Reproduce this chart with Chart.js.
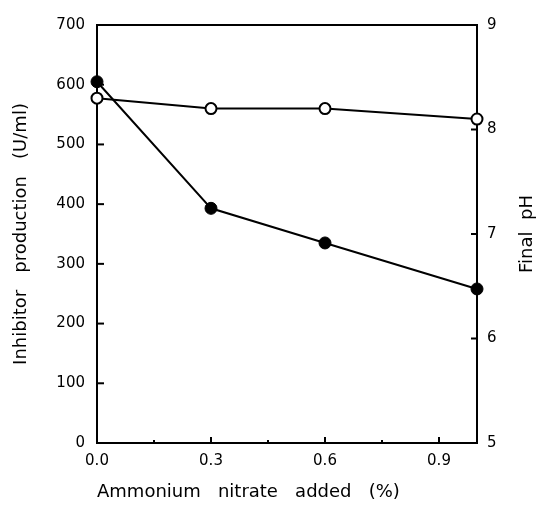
<!DOCTYPE html>
<html>
<head>
<meta charset="utf-8">
<script src="https://cdn.jsdelivr.net/npm/chart.js@4.4.1/dist/chart.umd.min.js"></script>
<style>
  html, body { margin: 0; padding: 0; background: #fff; }
  #wrap { width: 540px; height: 505px; position: relative; }
</style>
</head>
<body>
<div id="wrap"><canvas id="c"></canvas></div>
<script>
// ---- data ----
const nitrateAdded = [0.0, 0.3, 0.6, 1.0];           // % ammonium nitrate
const inhibitorProduction = [605, 393, 335, 258];    // U/ml (filled circles, left axis)
const finalPH = [8.30, 8.20, 8.20, 8.10];            // final pH (open circles, right axis)

const xTickValues = [0.0, 0.3, 0.6, 0.9];
const xMinorTickValues = [0.15, 0.45, 0.75];
const leftTickValues = [0, 100, 200, 300, 400, 500, 600, 700];
const rightTickValues = [5, 6, 7, 8, 9];

const xTitle = 'Ammonium   nitrate   added   (%)';
const leftTitle = 'Inhibitor   production   (U/ml)';
const rightTitle = 'Final  pH';

const FONT = '"DejaVu Sans", sans-serif';
const LW = 2;

const inwardTicks = {
  id: 'inwardTicks',
  afterDraw(chart) {
    const { ctx, chartArea: a, scales } = chart;
    const x = scales.x, y = scales.y, y1 = scales.y1;
    ctx.save();
    ctx.strokeStyle = '#000';
    ctx.lineWidth = LW;
    const line = (x0, y0, x1, y2) => { ctx.beginPath(); ctx.moveTo(x0, y0); ctx.lineTo(x1, y2); ctx.stroke(); };
    // top frame line
    line(a.left - LW / 2, a.top, a.right + LW / 2, a.top);
    // left axis major ticks (inward)
    leftTickValues.slice(1, -1).forEach(v => {
      const py = y.getPixelForValue(v);
      line(a.left, py, a.left + 7, py);
    });
    // right axis ticks (inward)
    rightTickValues.slice(1, -1).forEach(v => {
      const py = y1.getPixelForValue(v);
      line(a.right, py, a.right - 6, py);
    });
    // x axis ticks (inward)
    xTickValues.slice(1).forEach(v => {
      const px = x.getPixelForValue(v);
      line(px, a.bottom, px, a.bottom - 6);
    });
    xMinorTickValues.forEach(v => {
      const px = x.getPixelForValue(v);
      line(px, a.bottom, px, a.bottom - 3);
    });
    // right title, reading bottom-to-top
    ctx.fillStyle = '#000';
    ctx.font = '18px ' + FONT;
    ctx.textAlign = 'center';
    ctx.textBaseline = 'middle';
    ctx.translate(527, (a.top + a.bottom) / 2);
    ctx.rotate(-Math.PI / 2);
    ctx.fillText(rightTitle, 0, 0);
    ctx.restore();
  }
};

const prodPoints = nitrateAdded.map((v, i) => ({ x: v, y: inhibitorProduction[i] }));
const phPoints = nitrateAdded.map((v, i) => ({ x: v, y: finalPH[i] }));

new Chart(document.getElementById('c'), {
  type: 'line',
  data: {
    datasets: [
      {
        label: 'Final pH',
        data: phPoints,
        yAxisID: 'y1',
        borderColor: '#000',
        borderWidth: LW,
        backgroundColor: '#fff',
        pointBackgroundColor: '#fff',
        pointBorderColor: '#000',
        pointBorderWidth: 2,
        pointRadius: 5.5,
        tension: 0,
        clip: false,
        order: 2
      },
      {
        label: 'Inhibitor production',
        data: prodPoints,
        yAxisID: 'y',
        borderColor: '#000',
        borderWidth: LW,
        backgroundColor: '#000',
        pointBackgroundColor: '#000',
        pointBorderColor: '#000',
        pointBorderWidth: 1,
        pointRadius: 6,
        tension: 0,
        clip: false,
        order: 1
      }
    ]
  },
  options: {
    responsive: true,
    maintainAspectRatio: false,
    animation: false,
    layout: { padding: { top: 25, left: 0, right: 0, bottom: 0 } },
    plugins: { legend: { display: false }, tooltip: { enabled: false } },
    scales: {
      x: {
        type: 'linear',
        min: 0,
        max: 1.0,
        afterBuildTicks: s => { s.ticks = xTickValues.map(v => ({ value: v })); },
        afterFit: s => { s.height = 62; },
        grid: { display: false, drawTicks: false },
        border: { display: true, color: '#000', width: LW },
        ticks: {
          color: '#000',
          padding: 9,
          font: { family: FONT, size: 15 },
          callback: v => Number(v).toFixed(1),
          maxRotation: 0,
          autoSkip: false
        },
        title: {
          display: true,
          text: xTitle,
          align: 'start',
          color: '#000',
          font: { family: FONT, size: 18 },
          padding: { top: 0, bottom: 2 }
        }
      },
      y: {
        type: 'linear',
        position: 'left',
        min: 0,
        max: 700,
        afterBuildTicks: s => { s.ticks = leftTickValues.map(v => ({ value: v })); },
        afterFit: s => { s.width = 97; },
        grid: { display: false, drawTicks: false },
        border: { display: true, color: '#000', width: LW },
        ticks: {
          color: '#000',
          padding: 12,
          font: { family: FONT, size: 15 }
        },
        title: {
          display: true,
          text: leftTitle,
          color: '#000',
          font: { family: FONT, size: 18 },
          padding: { top: 11, bottom: 0 }
        }
      },
      y1: {
        type: 'linear',
        position: 'right',
        min: 5,
        max: 9,
        afterBuildTicks: s => { s.ticks = rightTickValues.map(v => ({ value: v })); },
        afterFit: s => { s.width = 63; },
        grid: { display: false, drawTicks: false },
        border: { display: true, color: '#000', width: LW },
        ticks: {
          color: '#000',
          padding: 10,
          font: { family: FONT, size: 15 }
        },
        title: { display: false }
      }
    }
  },
  plugins: [inwardTicks]
});
</script>
</body>
</html>
